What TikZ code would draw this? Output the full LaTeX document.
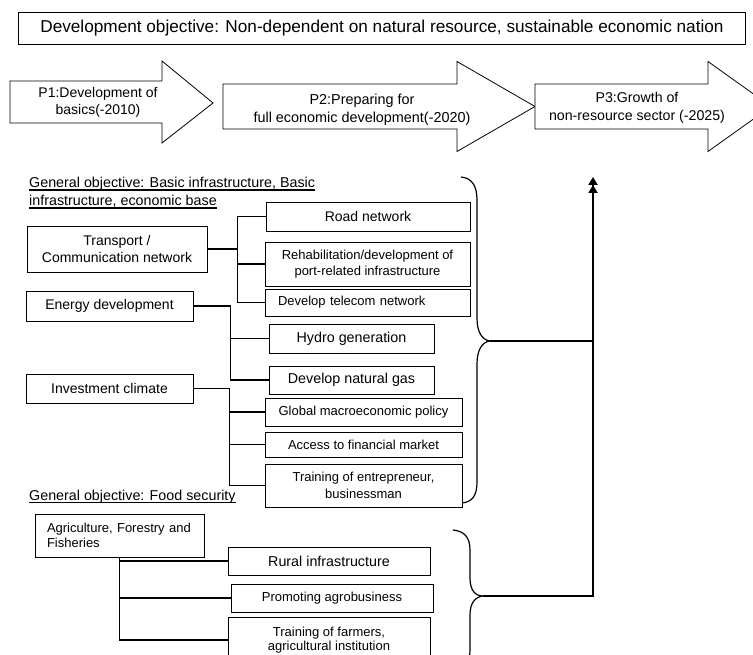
\documentclass[tikz,border=0pt]{standalone}
\usepackage{fontspec}
\setmainfont{Liberation Sans}
\usetikzlibrary{arrows.meta}

\newcommand\fsTop{\fontsize{17.2}{20}\selectfont}
\newcommand\fsBig{\fontsize{14.3}{17}\selectfont}
\newcommand\fsMid{\fontsize{14}{17}\selectfont}
\newcommand\fsSmall{\fontsize{13}{16}\selectfont}

\tikzset{
  box/.style={draw, line width=0.8pt, inner sep=0pt, align=center},
  phase/.style={draw, line width=0.8pt, fill=white, line join=miter},
  link/.style={line width=1.1pt},
  boldlink/.style={line width=1.8pt},
  brace/.style={line width=1.2pt},
  trunk/.style={line width=2.4pt},
  heading/.style={anchor=base west, inner sep=0pt, font=\fontsize{14.3}{17}\selectfont},
  uline/.style={line width=1.6pt},
  twin/.style={-{Triangle[length=8pt,width=9pt]Triangle[length=8pt,width=9pt]}}
}

\begin{document}
\begin{tikzpicture}[x=1pt, y=-1pt]
\useasboundingbox (0,0) rectangle (753,655);
\fill[white] (0,0) rectangle (753,655);
\clip (0,0) rectangle (753,655);

% overall objective
\node[box, minimum width=727pt, minimum height=32pt, font=\fsTop] (goal) at (382,28.5)
  {Development objective: Non-dependent on natural resource, sustainable economic nation};

% phase arrows
\draw[phase] (10,81) -- (162,81) -- (162,61) -- (213,103) -- (162,143) -- (162,123) -- (10,123) -- cycle;
\node[align=center, font=\fontsize{14}{17.5}\selectfont] (p1) at (98,102.5) {P1:Development of\\basics(-2010)};
\draw[phase] (223,84) -- (457,84) -- (457,61.5) -- (535,106.5) -- (457,151.5) -- (457,129) -- (223,129) -- cycle;
\node[align=center, font=\fontsize{14.4}{18}\selectfont] (p2) at (362,110) {P2:Preparing for\\full economic development(-2020)};
\draw[phase] (535,84) -- (708,84) -- (708,61.5) -- (771,106.5) -- (708,151.5) -- (708,129) -- (535,129) -- cycle;
\node[align=center, font=\fontsize{14.2}{18}\selectfont] (p3) at (637,108) {P3:Growth of\\non-resource sector (-2025)};

% general objective: infrastructure
\node[heading] (g1) at (29,187.5) {General objective: Basic infrastructure, Basic};
\node[heading] (g2) at (29,205.5) {infrastructure, economic base};
\draw[uline] ([yshift=-2.6pt]g1.base west) -- ([yshift=-2.6pt]g1.base east);
\draw[uline] ([yshift=-2.6pt]g2.base west) -- ([yshift=-2.6pt]g2.base east);

\node[box, minimum width=180pt, minimum height=46pt, font=\fontsize{14}{17.3}\selectfont] (transport) at (117,249) {Transport /\\Communication network};
\node[box, minimum width=204pt, minimum height=29pt, font=\fsMid] (road) at (368,216.5) {Road network};
\node[box, minimum width=205pt, minimum height=44pt, font=\fsSmall] (rehab) at (367.5,264) {Rehabilitation/development of\\port-related infrastructure};
\node[box, inner xsep=13pt, text width=179pt, align=left, minimum height=27pt, font=\fsSmall] (telecom) at (367.5,302.5) {Develop telecom network};

\node[box, minimum width=167pt, minimum height=30pt, font=\fsMid] (energy) at (109.5,306) {Energy development};
\node[box, minimum width=165pt, minimum height=29pt, font=\fsBig] (hydro) at (351.5,338.5) {Hydro generation};
\node[box, minimum width=165pt, minimum height=28pt, font=\fsBig] (gas) at (351.5,380) {Develop natural gas};

\node[box, minimum width=167pt, minimum height=29pt, font=\fsMid] (invest) at (109.5,388.5) {Investment climate};
\node[box, minimum width=197pt, minimum height=28pt, font=\fsSmall] (macro) at (363.5,412) {Global macroeconomic policy};
\node[box, minimum width=197pt, minimum height=25pt, font=\fsSmall] (access) at (363.5,444.5) {Access to financial market};
\node[box, minimum width=197pt, minimum height=43pt, font=\fontsize{13}{16.7}\selectfont] (entre) at (363.5,485.5) {Training of entrepreneur,\\businessman};

% links of the infrastructure tree
\draw[link] (transport.east) -- ++(30,0) coordinate (tj);
\draw[boldlink] (tj) -- (tj |- rehab.west);
\draw[link] (road.west) -| (tj);
\draw[link] (rehab.west) -| (tj);
\draw[link] (telecom.west) -| (tj);

\draw[boldlink] (energy.east) -- ++(37,0) coordinate (ej) -- (ej |- gas.west);
\draw[link] (hydro.west) -| (ej);
\draw[link] (gas.west) -| (ej);

\draw[boldlink] (invest.east) -- ++(36,0) coordinate (ij) -- (ij |- entre.west);
\draw[link] (macro.west) -| (ij);
\draw[link] (access.west) -| (ij);
\draw[link] (entre.west) -| (ij);

% general objective: food security
\node[heading] (g3) at (29,500) {General objective: Food security};
\draw[uline] ([yshift=-2.6pt]g3.base west) -- ([yshift=-2.6pt]g3.base east);

\node[box, inner xsep=12pt, text width=145pt, align=left, minimum height=43pt, font=\fontsize{13}{15}\selectfont] (agri) at (119.5,535.5) {Agriculture, Forestry and\\Fisheries};
\node[box, minimum width=202pt, minimum height=28pt, font=\fsBig] (rural) at (329,561) {Rural infrastructure};
\node[box, minimum width=202pt, minimum height=28pt, font=\fsSmall] (agro) at (332,598) {Promoting agrobusiness};
\node[box, minimum width=202pt, minimum height=46pt, font=\fontsize{13}{14.5}\selectfont] (farmers) at (329,640) {Training of farmers,\\agricultural institution};

\draw[boldlink] (agri.south) -- (agri.south |- agro.west);
\draw[link] (rural.west) -| (agri.south);
\draw[link] (agro.west) -| (agri.south);
\draw[link] (farmers.west) -| (agri.south);

% braces gathering both groups
\draw[brace] (461,177) .. controls (472,178) and (477,186) .. (477,200) -- (477,318)
  .. controls (477,332) and (482,340) .. (490,341) coordinate (b1)
  .. controls (482,342) and (477,350) .. (477,364) -- (477,482)
  .. controls (477,496) and (472,502) .. (462,503);
\draw[brace] (453,530) .. controls (464,531) and (470,537) .. (470,550) -- (470,578)
  .. controls (470,590) and (475,596) .. (483,596) coordinate (b2)
  .. controls (475,597) and (470,603) .. (470,615) -- (470,650)
  .. controls (470,662) and (465,668) .. (455,670);

% common trunk towards the phases
\coordinate (top) at (593,177);
\draw[trunk, twin] (b2) -| (top);
\draw[trunk] (b1) -- (b1 -| top);
\end{tikzpicture}
\end{document}
